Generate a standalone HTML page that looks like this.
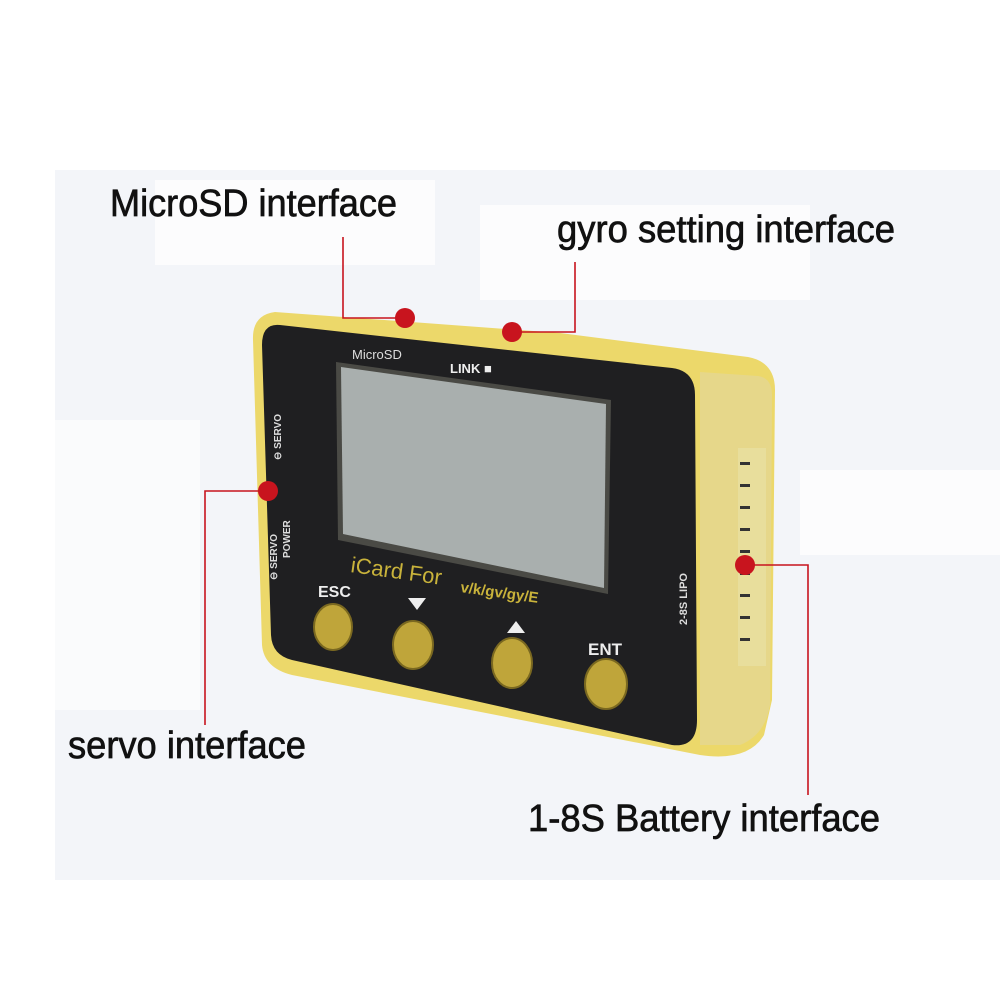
<!DOCTYPE html>
<html><head><style>
html,body{margin:0;padding:0;background:#fff;}
svg{display:block;}
text{font-family:"Liberation Sans",Arial,sans-serif;}
</style></head><body>
<svg width="1000" height="1000" viewBox="0 0 1000 1000">
<rect x="55" y="170" width="945" height="710" fill="#f3f5f9"/>
<rect x="155" y="180" width="280" height="85" fill="#fcfcfd"/>
<rect x="480" y="205" width="330" height="95" fill="#fcfcfd"/>
<rect x="55" y="420" width="145" height="290" fill="#fafbfc"/>
<rect x="800" y="470" width="200" height="85" fill="#fcfcfd"/>
<!-- casing -->
<path d="M275 312 Q252 315 253 340 L262 645 Q264 668 292 675 L700 755 Q748 762 764 735 L772 700 L775 390 Q775 362 748 357 L560 333 Z" fill="#ecd86a"/>
<path d="M700 372 L758 376 Q772 378 772 395 L770 705 Q765 735 740 745 L700 745 Z" fill="#e6d78a"/>
<!-- face -->
<path d="M280 325 L672 368 Q695 371 695 395 L697 720 Q697 748 672 745 L292 660 Q272 655 271 635 L262 345 Q262 323 280 325 Z" fill="#1f1f21"/>
<!-- screen -->
<path d="M336 362 L611 400 L608 594 L338 540 Z" fill="#4a4a45"/>
<path d="M341 367 L606 404 L604 588 L343 534 Z" fill="#a9afae"/>
<!-- connector -->
<rect x="738" y="448" width="28" height="218" fill="#e8de9c"/>
<g fill="#333"><rect x="740" y="462" width="10" height="3"/><rect x="740" y="484" width="10" height="3"/><rect x="740" y="506" width="10" height="3"/><rect x="740" y="528" width="10" height="3"/><rect x="740" y="550" width="10" height="3"/><rect x="740" y="572" width="10" height="3"/><rect x="740" y="594" width="10" height="3"/><rect x="740" y="616" width="10" height="3"/><rect x="740" y="638" width="10" height="3"/></g>
<!-- face text -->
<text x="352" y="359" font-size="13" fill="#ddd">MicroSD</text>
<text x="450" y="373" font-size="13" font-weight="bold" fill="#eee">LINK ■</text>
<text x="0" y="0" font-size="10" font-weight="bold" fill="#ddd" transform="translate(281,460) rotate(-90)">⊖ SERVO</text>
<text x="0" y="0" font-size="10" font-weight="bold" fill="#ddd" transform="translate(277,580) rotate(-90)">⊖ SERVO</text>
<text x="0" y="0" font-size="10" font-weight="bold" fill="#ddd" transform="translate(290,558) rotate(-90)">POWER</text>
<text x="0" y="0" font-size="11" font-weight="bold" fill="#ddd" transform="translate(687,625) rotate(-90)">2-8S LIPO</text>
<text x="0" y="0" font-size="22" fill="#c9b33b" font-family="Liberation Serif" transform="translate(350,572) rotate(8)">iCard For</text>
<text x="0" y="0" font-size="15" font-weight="bold" fill="#c9b33b" transform="translate(460,592) rotate(8)">v/k/gv/gy/E</text>
<text x="318" y="597" font-size="16" font-weight="bold" fill="#eee">ESC</text>
<text x="588" y="655" font-size="17" font-weight="bold" fill="#eee">ENT</text>
<polygon points="408,598 426,598 417,610" fill="#eee"/>
<polygon points="507,633 525,633 516,621" fill="#eee"/>
<g fill="#bfa53a" stroke="#7a6820" stroke-width="2">
<ellipse cx="333" cy="627" rx="19" ry="23"/>
<ellipse cx="413" cy="645" rx="20" ry="24"/>
<ellipse cx="512" cy="663" rx="20" ry="25"/>
<ellipse cx="606" cy="684" rx="21" ry="25"/>
</g>
<!-- lines -->
<g stroke="#c8141e" stroke-width="1.6" fill="none">
<polyline points="343,237 343,318 405,318"/>
<polyline points="575,262 575,332 512,332"/>
<polyline points="268,491 205,491 205,725"/>
<polyline points="745,565 808,565 808,795"/>
</g>
<g fill="#c8141e">
<circle cx="405" cy="318" r="10"/>
<circle cx="512" cy="332" r="10"/>
<circle cx="268" cy="491" r="10"/>
<circle cx="745" cy="565" r="10"/>
</g>
<g font-size="38" fill="#111" stroke="#111" stroke-width="0.7">
<text x="110" y="216" textLength="287" lengthAdjust="spacingAndGlyphs">MicroSD interface</text>
<text x="557" y="242" textLength="338" lengthAdjust="spacingAndGlyphs">gyro setting interface</text>
<text x="68" y="758" textLength="238" lengthAdjust="spacingAndGlyphs">servo interface</text>
<text x="528" y="831" textLength="352" lengthAdjust="spacingAndGlyphs">1-8S Battery interface</text>
</g>
</svg>
</body></html>
